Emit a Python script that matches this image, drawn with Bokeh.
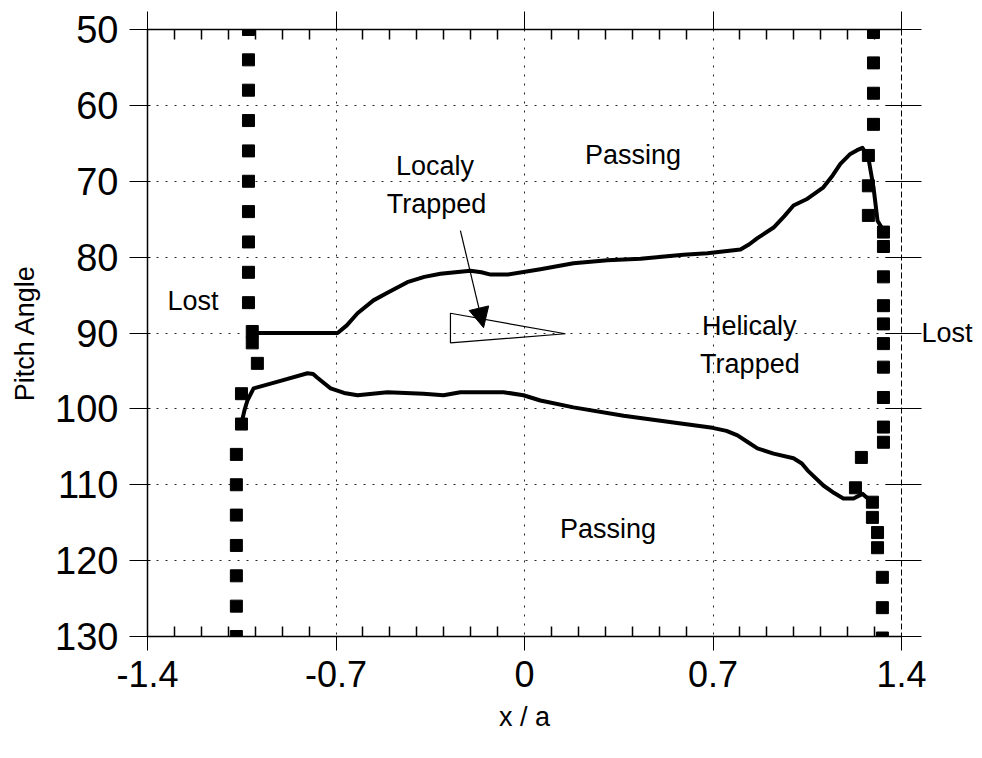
from bokeh.plotting import figure
from bokeh.models import (Range1d, FixedTicker, LinearAxis, Arrow,
                          NormalHead, ColumnDataSource)
from bokeh.core.properties import value
from bokeh.embed import file_html
from bokeh.resources import INLINE

# ---------------- data ----------------
x_ticks = [-1.4, -0.7, 0.0, 0.7, 1.4]
x_tick_labels = {-1.4: "-1.4", -0.7: "-0.7", 0: "0", 0.7: "0.7", 1.4: "1.4"}
x_minor_ticks = [-1.3, -1.2, -1.1, -1.0, -0.9, -0.8, -0.6, -0.5, -0.4, -0.3,
                 -0.2, -0.1, 0.1, 0.2, 0.3, 0.4, 0.5, 0.6, 0.8, 0.9, 1.0,
                 1.1, 1.2, 1.3]
y_ticks = [50, 60, 70, 80, 90, 100, 110, 120, 130]
x_grid = [-0.7, 0.0, 0.7]
y_grid = [60, 70, 80, 90, 100, 110, 120]

# left loss boundary (squares)
left_x = [-1.025, -1.025, -1.025, -1.025, -1.025, -1.025, -1.025, -1.025,
          -1.025, -1.025, -1.011, -1.011, -0.992, -1.051, -1.051, -1.070,
          -1.070, -1.070, -1.070, -1.070, -1.070, -1.070]
left_y = [50, 54, 58, 62, 66, 70, 74, 78, 82, 86, 89.8, 91.3, 94, 98, 102,
          106, 110, 114, 118, 122, 126, 130]

# right loss boundary (squares)
right_x = [1.296, 1.296, 1.296, 1.296, 1.277, 1.277, 1.277, 1.333, 1.333,
           1.333, 1.333, 1.333, 1.333, 1.333, 1.333, 1.333, 1.333, 1.251,
           1.229, 1.292, 1.292, 1.311, 1.311, 1.329, 1.329, 1.329]
right_y = [50.4, 54.4, 58.4, 62.5, 66.6, 70.6, 74.5, 76.7, 78.6, 82.6, 86.4,
           88.8, 91.4, 94.5, 98.5, 102.4, 104.4, 106.4, 110.4, 112.3, 114.3,
           116.3, 118.3, 122.2, 126.2, 130.2]

# upper boundary of helically trapped region
upper_x = [-1.02, -0.694, -0.66, -0.62, -0.561, -0.509, -0.435, -0.372,
           -0.312, -0.201, -0.160, -0.126, -0.063, 0.059, 0.182, 0.308,
           0.431, 0.590, 0.679, 0.802, 0.835, 0.865, 0.925, 0.965, 0.999,
           1.051, 1.110, 1.145, 1.173, 1.210, 1.235, 1.255, 1.277, 1.296,
           1.311, 1.333]
upper_y = [90, 90, 89.0, 87.4, 85.7, 84.7, 83.3, 82.6, 82.2, 81.8, 82.0,
           82.3, 82.3, 81.6, 80.8, 80.4, 80.2, 79.7, 79.5, 79.0, 78.3, 77.5,
           76.1, 74.6, 73.2, 72.3, 70.8, 69.2, 67.7, 66.4, 65.9, 65.6, 66.9,
           70.8, 75.2, 76.5]

# lower boundary of helically trapped region
lower_x = [-1.051, -1.040, -1.029, -1.006, -0.906, -0.806, -0.785, -0.769,
           -0.745, -0.720, -0.670, -0.620, -0.509, -0.375, -0.301, -0.238,
           -0.078, -0.004, 0.059, 0.182, 0.368, 0.553, 0.698, 0.750, 0.791,
           0.830, 0.865, 0.925, 0.999, 1.030, 1.051, 1.110, 1.150, 1.184,
           1.222, 1.255, 1.285]
lower_y = [101.9, 100.2, 98.9, 97.3, 96.3, 95.3, 95.4, 95.9, 96.6, 97.3,
           97.9, 98.2, 97.8, 98.0, 98.2, 97.8, 97.8, 98.2, 98.9, 99.8, 100.9,
           101.8, 102.5, 102.9, 103.5, 104.4, 105.2, 105.9, 106.5, 107.2,
           108.1, 110.1, 111.1, 111.8, 111.8, 111.2, 112.1]

# locally trapped wedge
wedge_x = [-0.275, 0.152, -0.275, -0.275]
wedge_y = [87.4, 90.1, 91.3, 87.4]

# region labels (inside the frame)
label_text = ["Passing", "Localy", "Trapped", "Lost", "Helicaly", "Trapped",
              "Passing"]
label_x = [0.403, -0.332, -0.327, -1.231, 0.835, 0.837, 0.310]
label_y = [66.5, 68.0, 73.0, 85.8, 89.1, 94.1, 115.8]

# region label outside the frame, on the right
right_label = "Lost"

arrow_start = (-0.238, 76.5)
arrow_end = (-0.152, 89.3)

FONT = "Liberation Sans"

# ---------------- figure ----------------
p = figure(width=982, height=758, output_backend="svg", toolbar_location=None,
           x_range=Range1d(-1.4, 1.4), y_range=Range1d(130, 50),
           min_border_left=147, min_border_right=81, min_border_top=29,
           min_border_bottom=122)
p.outline_line_color = None
p.background_fill_color = "white"
p.border_fill_color = "white"

# grids
p.xgrid.ticker = FixedTicker(ticks=x_grid)
p.ygrid.ticker = FixedTicker(ticks=y_grid)
for g in (p.xgrid, p.ygrid):
    g.grid_line_color = "black"
    g.grid_line_dash = "2 7"
    g.grid_line_width = 1
    g.grid_line_alpha = 0.85

# bottom axis
xa = p.xaxis[0]
xa.ticker = FixedTicker(ticks=x_ticks, minor_ticks=x_minor_ticks)
xa.major_label_overrides = x_tick_labels
xa.axis_label = "x / a"
xa.axis_label_text_font = FONT
xa.axis_label_text_font_style = "normal"
xa.axis_label_text_font_size = "27px"
xa.axis_label_text_color = "black"
xa.axis_label_standoff = 12
xa.major_label_text_font = FONT
xa.major_label_text_font_size = "36px"
xa.major_label_text_color = "black"
xa.major_label_standoff = 10
xa.major_tick_in = 0
xa.major_tick_out = 14
xa.minor_tick_in = 10
xa.minor_tick_out = 0
xa.minor_tick_line_width = 1.5
xa.axis_line_color = "black"
xa.axis_line_width = 1.5
xa.major_tick_line_color = "black"
xa.minor_tick_line_color = "black"

# left axis
ya = p.yaxis[0]
ya.ticker = FixedTicker(ticks=y_ticks)
ya.axis_label = "Pitch Angle"
ya.axis_label_text_font = FONT
ya.axis_label_text_font_style = "normal"
ya.axis_label_text_font_size = "27px"
ya.axis_label_text_color = "black"
ya.axis_label_standoff = 12
ya.major_label_text_font = FONT
ya.major_label_text_font_size = "38px"
ya.major_label_text_color = "black"
ya.major_label_standoff = 11
ya.major_tick_in = 3
ya.major_tick_out = 18
ya.minor_tick_line_color = None
ya.axis_line_color = "black"
ya.axis_line_width = 1.5
ya.major_tick_line_color = "black"

# top axis (ticks only)
ta = LinearAxis(ticker=FixedTicker(ticks=x_ticks, minor_ticks=x_minor_ticks),
                major_label_text_color=None, major_tick_in=0,
                major_tick_out=18, minor_tick_in=10, minor_tick_out=0,
                minor_tick_line_width=1.5,
                axis_line_color="black", axis_line_width=1.5,
                major_tick_line_color="black", minor_tick_line_color="black")
p.add_layout(ta, "above")

# right axis (ticks only, "Lost" as its horizontal label)
ra = LinearAxis(ticker=FixedTicker(ticks=y_ticks),
                major_label_text_color=None, major_tick_in=16,
                major_tick_out=20, minor_tick_line_color=None,
                axis_line_color="black", axis_line_width=1,
                axis_line_dash="6 3", major_tick_line_color="black",
                axis_label=right_label, axis_label_orientation="horizontal",
                axis_label_text_font=FONT, axis_label_text_font_size="27px",
                axis_label_text_font_style="normal",
                axis_label_text_color="black", axis_label_standoff=0,
                axis_label_text_align="left",
                axis_label_text_baseline="bottom")
p.add_layout(ra, "right")

# boundaries
p.line(upper_x, upper_y, line_color="black", line_width=4,
       line_join="round")
p.line(lower_x, lower_y, line_color="black", line_width=4,
       line_join="round")
p.scatter(left_x, left_y, marker="square", size=12, fill_color="black",
          line_color="black")
p.scatter(right_x, right_y, marker="square", size=12, fill_color="black",
          line_color="black")

# locally trapped wedge
p.patch(wedge_x, wedge_y, fill_color=None, line_color="black", line_width=1.2)

# labels
src = ColumnDataSource(dict(x=label_x, y=label_y, text=label_text))
p.text(x="x", y="y", text="text", source=src, text_font=value(FONT),
       text_font_size="27px", text_align="center",
       text_baseline="alphabetic", text_color="black")

p.add_layout(Arrow(end=NormalHead(size=20, fill_color="black",
                                  line_color="black"),
                   x_start=arrow_start[0], y_start=arrow_start[1],
                   x_end=arrow_end[0], y_end=arrow_end[1],
                   line_color="black", line_width=1.2))

open("out.html", "w").write(file_html(p, INLINE))
